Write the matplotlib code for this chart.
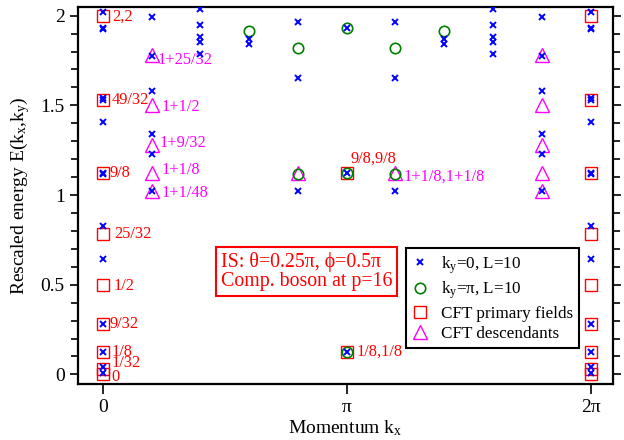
import numpy as np
import matplotlib
matplotlib.use('Agg')
import matplotlib.pyplot as plt

plt.rcParams['font.family'] = ['Liberation Serif', 'DejaVu Serif']
plt.rcParams['mathtext.default'] = 'regular'

L = 10

# E(kx, ky=0) for each momentum index n = 0..L (kx = 2*pi*n/L)
ky0_energies = [
    [2.02, 1.93, 1.925, 1.54, 1.53, 1.405, 1.125, 1.12, 0.825, 0.645, 0.28, 0.125, 0.042, 0.008],
    [1.99, 1.775, 1.582, 1.338, 1.227, 1.024],
    [2.035, 1.95, 1.883, 1.855, 1.787],
    [1.868, 1.84],
    [1.967, 1.654, 1.024],
    [1.93, 1.123, 0.125],
    [1.967, 1.654, 1.024],
    [1.868, 1.84],
    [2.035, 1.95, 1.883, 1.855, 1.787],
    [1.99, 1.775, 1.582, 1.338, 1.227, 1.024],
    [2.02, 1.93, 1.925, 1.54, 1.53, 1.405, 1.125, 1.12, 0.825, 0.645, 0.28, 0.125, 0.042, 0.008],
]

# E(kx, ky=pi)
kypi_n = [3, 4, 4, 5, 5, 5, 6, 6, 7]
kypi_e = [1.915, 1.818, 1.12, 1.93, 1.123, 0.125, 1.818, 1.12, 1.915]

# CFT primary fields
prim_n = [0] * 9 + [5, 5] + [10] * 9
prim_e = [0, 1/32, 1/8, 9/32, 1/2, 25/32, 9/8, 49/32, 2,
          1/8, 9/8,
          0, 1/32, 1/8, 9/32, 1/2, 25/32, 9/8, 49/32, 2]

# CFT descendants
desc_n = [1] * 5 + [4, 6] + [9] * 5
desc_e = [1 + 1/48, 1 + 1/8, 1 + 9/32, 1 + 1/2, 1 + 25/32,
          1 + 1/8, 1 + 1/8,
          1 + 1/48, 1 + 1/8, 1 + 9/32, 1 + 1/2, 1 + 25/32]

# labels: (n, energy, text, dx, dy) offsets in points
prim_labels = [
    (0, 2, '2,2', 7, -1),
    (0, 49/32, '49/32', 6, 0),
    (0, 9/8, '9/8', 5, 0),
    (0, 25/32, '25/32', 8, 0),
    (0, 1/2, '1/2', 8, -1),
    (0, 9/32, '9/32', 5, 0),
    (0, 1/8, '1/8', 6, 0),
    (0, 1/32, '1/32', 6, 4.5),
    (0, 0, '0', 6, -1.5),
    (5, 9/8, '9/8,9/8', 3, 10),
    (5, 1/8, '1/8,1/8', 7, 0),
]
desc_labels = [
    (1, 1 + 25/32, '1+25/32', 4, -4),
    (1, 1 + 1/2, '1+1/2', 7, -1),
    (1, 1 + 9/32, '1+9/32', 6, 1),
    (1, 1 + 1/8, '1+1/8', 7, 2),
    (1, 1 + 1/48, '1+1/48', 7, -1),
    (6, 1 + 1/8, '1+1/8,1+1/8', 6, -3),
]


def kx(n):
    return 2 * np.pi * np.asarray(n) / L


fig = plt.figure(figsize=(6.24, 4.4), dpi=100)
ax = fig.add_axes([0.125, 0.127, 0.857, 0.857])

blue_n = [n for n, col in enumerate(ky0_energies) for _ in col]
blue_e = [e for col in ky0_energies for e in col]

ax.plot(kx(blue_n), blue_e, linestyle='none', marker='x', color='blue',
        markersize=5, markeredgewidth=1.4, label=r'k$_y$=0, L=10', zorder=5)
ax.plot(kx(kypi_n), kypi_e, linestyle='none', marker='o', color='green',
        markerfacecolor='none', markersize=7.5, markeredgewidth=1.2,
        label=r'k$_y$=π, L=10', zorder=4)
ax.plot(kx(prim_n), prim_e, linestyle='none', marker='s', color='red',
        markerfacecolor='none', markersize=8, markeredgewidth=1.0,
        label='CFT primary fields', zorder=3)
ax.plot(kx(desc_n), desc_e, linestyle='none', marker='^', color='magenta',
        markerfacecolor='none', markersize=10, markeredgewidth=1.0,
        label='CFT descendants', zorder=3)

for n, e, txt, dx, dy in prim_labels:
    ax.annotate(txt, (kx(n), e), xytext=(dx, dy), textcoords='offset points',
                va='center', ha='left', color='red', fontsize=11.8)
for n, e, txt, dx, dy in desc_labels:
    ax.annotate(txt, (kx(n), e), xytext=(dx, dy), textcoords='offset points',
                va='center', ha='left', color='magenta', fontsize=11.8)

ax.text(0.267, 0.298, 'IS: θ=0.25π, ϕ=0.5π\nComp. boson at p=16',
        transform=ax.transAxes, color='red', fontsize=14.3, va='center',
        ha='left', linespacing=1.0,
        bbox=dict(boxstyle='square,pad=0.25', facecolor='white',
                  edgecolor='red', linewidth=1.5))

leg = ax.legend(loc='upper left', bbox_to_anchor=(0.613, 0.361),
                borderaxespad=0, fontsize=12.3, frameon=True, fancybox=False,
                framealpha=1, edgecolor='black', handletextpad=0.7,
                borderpad=0.35, labelspacing=0.25, handlelength=1.0)
leg.get_frame().set_linewidth(1.5)

ax.set_xlim(-0.32, 6.57)
ax.set_ylim(-0.054, 2.048)
ax.set_xticks([0, np.pi, 2 * np.pi])
ax.set_xticklabels(['0', 'π', '2π'])
ax.set_yticks([0, 0.5, 1, 1.5, 2])
ax.set_yticklabels(['0', '0.5', '1', '1.5', '2'])
ax.set_yticks(np.arange(0, 2.05, 0.1), minor=True)
ax.tick_params(axis='both', which='major', direction='out', length=7,
               width=1.2, labelsize=14)
ax.tick_params(axis='y', which='minor', direction='out', length=5, width=1.2)
ax.tick_params(axis='y', which='both', right=True)
ax.tick_params(axis='y', which='major', right=True, length=6)
for sp in ax.spines.values():
    sp.set_linewidth(1.6)

ax.set_xlabel(r'Momentum k$_x$', fontsize=14, labelpad=2)
ax.set_ylabel(r'Rescaled energy E(k$_x$,k$_y$)', fontsize=14, labelpad=6)

fig.savefig('out.png', dpi=100)
